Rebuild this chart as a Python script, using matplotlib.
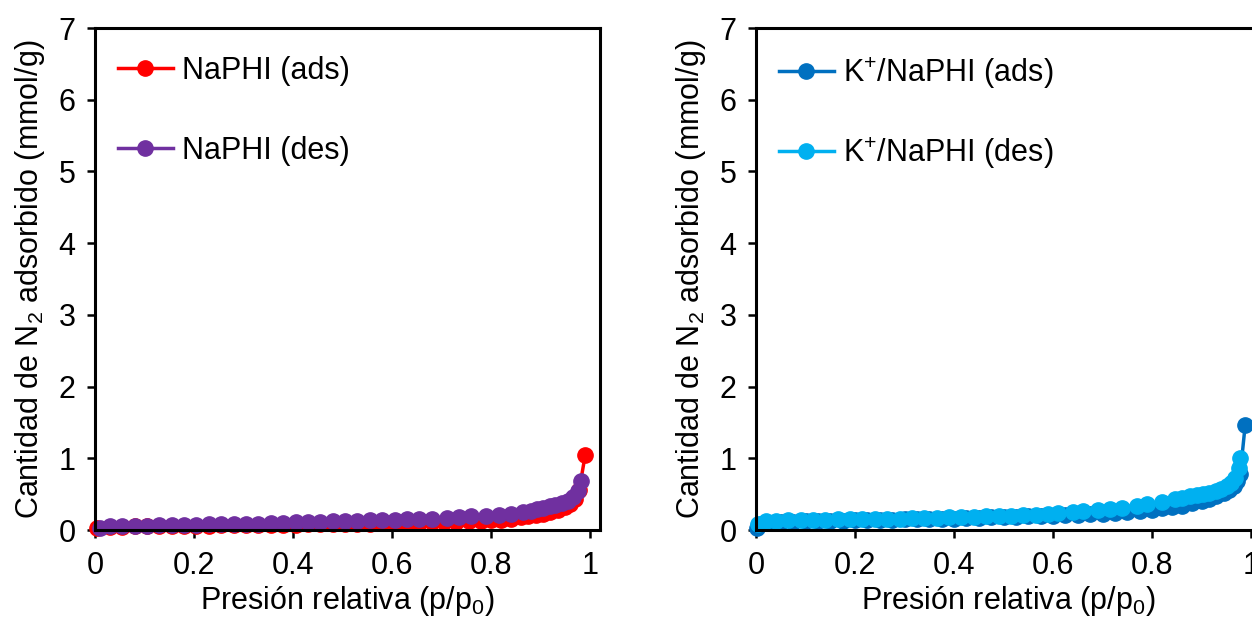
import matplotlib
matplotlib.use("Agg")
import matplotlib.pyplot as plt

plt.rcParams['font.family'] = ['Liberation Sans', 'DejaVu Sans']
plt.rcParams['mathtext.fontset'] = 'custom'
plt.rcParams['mathtext.rm'] = 'Liberation Sans'
plt.rcParams['mathtext.it'] = 'Liberation Sans'

# NaPHI adsorption / desorption isotherm
na_ads_x = [0.005, 0.03, 0.055, 0.08, 0.105, 0.13, 0.155, 0.18, 0.205, 0.23,
            0.255, 0.28, 0.305, 0.33, 0.355, 0.38, 0.405, 0.43, 0.455, 0.48,
            0.505, 0.53, 0.555, 0.58, 0.605, 0.63, 0.655, 0.68, 0.705, 0.73,
            0.755, 0.78, 0.80, 0.82, 0.84, 0.86, 0.875, 0.89, 0.905, 0.92,
            0.935, 0.95, 0.96, 0.97, 0.978, 0.99]
na_ads_y = [0.03, 0.04, 0.045, 0.05, 0.05, 0.055, 0.055, 0.06, 0.06, 0.062,
            0.065, 0.065, 0.07, 0.07, 0.072, 0.075, 0.075, 0.08, 0.08, 0.085,
            0.085, 0.09, 0.09, 0.095, 0.095, 0.10, 0.10, 0.105, 0.11, 0.115,
            0.12, 0.125, 0.135, 0.145, 0.16, 0.175, 0.19, 0.21, 0.23, 0.25,
            0.28, 0.32, 0.36, 0.43, 0.56, 1.04]
na_des_x = [0.982, 0.975, 0.966, 0.955, 0.943, 0.93, 0.92, 0.905, 0.893, 0.88,
            0.865, 0.84, 0.815, 0.79, 0.76, 0.735, 0.71, 0.68, 0.655, 0.63,
            0.605, 0.58, 0.555, 0.53, 0.505, 0.48, 0.455, 0.43, 0.405, 0.38,
            0.355, 0.33, 0.305, 0.28, 0.255, 0.23, 0.205, 0.18, 0.155, 0.13,
            0.105, 0.08, 0.055, 0.03, 0.01]
na_des_y = [0.68, 0.55, 0.46, 0.41, 0.37, 0.35, 0.33, 0.31, 0.29, 0.27,
            0.25, 0.23, 0.21, 0.20, 0.19, 0.18, 0.17, 0.16, 0.155, 0.15,
            0.145, 0.14, 0.135, 0.13, 0.125, 0.12, 0.115, 0.11, 0.105, 0.10,
            0.095, 0.09, 0.088, 0.085, 0.08, 0.078, 0.075, 0.07, 0.068, 0.065,
            0.06, 0.058, 0.055, 0.05, 0.03]

# K+/NaPHI adsorption / desorption isotherm
k_ads_x = [0.002, 0.01, 0.025, 0.05, 0.075, 0.1, 0.125, 0.15, 0.175, 0.2,
           0.225, 0.25, 0.275, 0.3, 0.325, 0.35, 0.375, 0.4, 0.425, 0.45,
           0.475, 0.5, 0.525, 0.55, 0.575, 0.6, 0.625, 0.65, 0.675, 0.7,
           0.725, 0.75, 0.775, 0.8, 0.82, 0.84, 0.86, 0.88, 0.9, 0.915,
           0.93, 0.945, 0.955, 0.965, 0.972, 0.978, 0.988]
k_ads_y = [0.03, 0.08, 0.10, 0.11, 0.115, 0.12, 0.125, 0.13, 0.13, 0.135,
           0.14, 0.14, 0.145, 0.15, 0.15, 0.155, 0.16, 0.16, 0.165, 0.17,
           0.175, 0.18, 0.185, 0.19, 0.195, 0.20, 0.21, 0.215, 0.22, 0.23,
           0.24, 0.25, 0.26, 0.28, 0.30, 0.32, 0.34, 0.37, 0.40, 0.43,
           0.47, 0.52, 0.56, 0.62, 0.69, 0.78, 1.46]
k_des_x = [0.978, 0.975, 0.968, 0.96, 0.951, 0.94, 0.93, 0.915, 0.903, 0.89,
           0.877, 0.86, 0.846, 0.82, 0.79, 0.77, 0.74, 0.715, 0.69, 0.66,
           0.64, 0.61, 0.59, 0.565, 0.54, 0.515, 0.49, 0.465, 0.44, 0.415,
           0.39, 0.365, 0.34, 0.315, 0.29, 0.265, 0.24, 0.215, 0.19, 0.165,
           0.14, 0.115, 0.09, 0.065, 0.04, 0.02, 0.005]
k_des_y = [1.01, 0.86, 0.72, 0.66, 0.61, 0.57, 0.54, 0.52, 0.50, 0.485,
           0.47, 0.45, 0.43, 0.39, 0.36, 0.33, 0.31, 0.29, 0.28, 0.26,
           0.25, 0.24, 0.225, 0.215, 0.21, 0.20, 0.195, 0.19, 0.185, 0.18,
           0.175, 0.17, 0.168, 0.165, 0.16, 0.158, 0.155, 0.152, 0.15, 0.148,
           0.145, 0.142, 0.14, 0.135, 0.13, 0.12, 0.08]

panels = [
    ([95, 505], [(na_ads_x, na_ads_y, '#FF0000', 'NaPHI (ads)'),
                 (na_des_x, na_des_y, '#7030A0', 'NaPHI (des)')], 1.65),
    ([756, 505], [(k_ads_x, k_ads_y, '#0070C0', 'K$^{+}$/NaPHI (ads)'),
                  (k_des_x, k_des_y, '#00B0F0', 'K$^{+}$/NaPHI (des)')], 1.45),
]

W, H = 1252, 617
fig = plt.figure(figsize=(W / 100, H / 100), dpi=100)
y_top, y_bot = 28, 530
fs = 22

for (left, width), series, spacing in panels:
    ax = fig.add_axes([left / W, (H - y_bot) / H, width / W, (y_bot - y_top) / H])
    for xs, ys, col, lab in series:
        ax.plot(xs, ys, '-o', color=col, lw=2.5, ms=11, label=lab, clip_on=False)
    ax.set_xlim(0, 1.02)
    ax.set_ylim(0, 7)
    ax.set_xticks([0, 0.2, 0.4, 0.6, 0.8, 1])
    ax.set_xticklabels(['0', '0.2', '0.4', '0.6', '0.8', '1'])
    ax.set_yticks(range(0, 8))
    for s in ax.spines.values():
        s.set_linewidth(2.2)
    ax.tick_params(direction='out', length=6, width=1.8, labelsize=fs)
    ax.tick_params(axis='x', pad=9)
    ax.tick_params(axis='y', pad=8)
    ax.set_xlabel('Presión relativa (p/p$_0$)', fontsize=fs, labelpad=2)
    ax.set_ylabel('Cantidad de N$_2$ adsorbido (mmol/g)', fontsize=fs, labelpad=8)
    ax.legend(loc='upper left', bbox_to_anchor=(0.045, 0.945), frameon=False,
              fontsize=fs, handlelength=1.8, handletextpad=0.3,
              labelspacing=spacing, borderpad=0, borderaxespad=0)

fig.savefig('out.png', dpi=100)
